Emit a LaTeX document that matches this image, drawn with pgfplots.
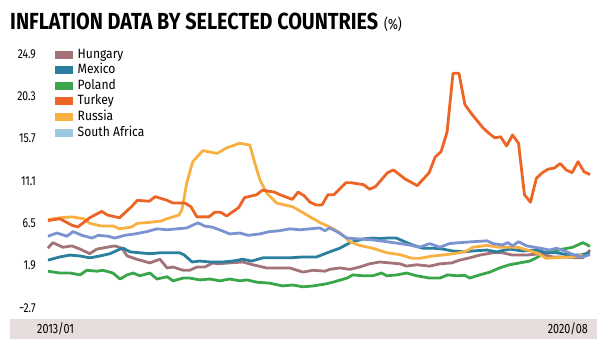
\documentclass[border=0pt]{standalone}
\usepackage{pgfplots}
\pgfplotsset{compat=1.18}
\usepackage{pgfplotstable}
\usepackage{fontspec}
\usepackage{graphicx}
\setmainfont{Fira Sans}
\definecolor{cHun}{HTML}{A27479}
\definecolor{cMex}{HTML}{2A7F9E}
\definecolor{cPol}{HTML}{3AA64A}
\definecolor{cTur}{HTML}{EC6525}
\definecolor{cRus}{HTML}{F9B042}
\definecolor{cSA}{HTML}{7C93D1}
\definecolor{cSAleg}{HTML}{9DC8DF}
\definecolor{bandc}{HTML}{E5DCDB}
\newcommand\cond[1]{\scalebox{0.8}[1]{#1}}
\newcommand\lcond[1]{\scalebox{0.9}[1]{#1}}

\pgfplotstableread{
i v
0 6.8
2 7.0
4 6.3
5 6.1
7 7.1
9 7.8
10 7.4
12 7.1
14 8.3
15 9.0
17 8.9
18 9.4
20 9.0
21 8.7
23 8.7
24 8.3
25 7.2
27 7.2
28 7.7
29 7.7
30 7.3
32 8.2
33 9.3
35 9.6
36 10.1
38 9.9
39 9.6
41 9.1
42 9.9
43 9.5
44 8.8
45 8.5
46 8.5
47 9.6
48 9.6
50 10.9
51 10.9
53 10.7
54 10.2
55 10.5
57 12.0
58 12.3
60 11.3
62 10.6
64 12.0
65 13.7
66 14.3
67 16.4
68 22.8
69 22.8
70 19.4
71 18.5
72 17.7
73 16.9
74 16.3
75 15.8
76 15.9
77 14.9
78 16.1
79 15.2
80 9.6
81 8.8
82 11.4
83 12.0
84 12.4
85 12.5
86 13.0
87 12.3
88 12.0
89 13.2
90 12.1
91 11.8
}\turkey

\pgfplotstableread{
i v
0 6.9
2 7.1
4 7.2
6 7.0
7 6.5
9 6.2
11 6.2
12 5.9
14 6.1
15 6.5
17 6.6
19 6.75
20 7.0
22 7.4
22.5 8.0
23.3 10.9
24.3 13.2
26 14.4
28.4 14.1
30 14.7
32.2 15.2
33.9 15.0
34.7 13.1
35.6 11.2
36.7 9.8
38.4 8.7
41.1 8.3
43.5 7.4
45.6 6.6
47.3 6.1
49 5.5
50.7 4.5
52.3 4.1
54.5 3.8
56.9 3.3
59.1 3.1
61.1 2.7
62.4 2.7
64.6 2.95
66.9 3.1
69.1 3.3
70.3 3.5
71.3 3.9
73.7 4.1
75.8 3.9
78.9 3.9
82 3.3
83.7 2.7
85.9 2.8
88.1 2.85
89.8 3.05
}\russia

\pgfplotstableread{
i v
0 5.1
1.5 5.45
3.2 5.1
4.2 5.6
5.7 5.2
7.4 4.9
8.4 5.2
10.1 5.1
11.2 4.9
12.9 5.2
14.6 5.35
16.6 5.6
18.3 5.9
20 5.8
21.6 5.9
23.3 6.0
24.3 6.3
25.2 6.55
26.3 6.2
27.5 6.1
29.2 5.7
30.5 5.35
32.2 5.45
33.6 5.2
35.6 5.35
37.2 5.6
38.9 5.7
40.6 5.9
42.3 5.8
44 5.9
45.6 6.0
46.5 5.7
47.3 6.0
48.5 5.6
50.2 4.9
52.3 4.8
54.5 4.7
56.9 4.5
59.1 4.3
60.7 4.15
62.4 3.9
64.1 4.3
65.8 3.9
67.4 4.3
69.1 4.4
71.3 4.5
73.7 4.6
74.7 4.3
76.3 4.15
77.2 4.4
78 4.05
79 4.5
80.4 4.05
82.6 3.8
84.2 3.6
85.4 3.8
87.1 3.4
88.8 2.95
89.8 2.85
91 3.1
}\safrica

\pgfplotstableread{
i v
0 3.8
0.8 4.4
2.5 3.9
4 4.05
5.4 3.7
7 3.2
8.2 3.7
9.9 3.9
11.2 4.05
12.4 3.8
13.3 2.95
14.9 2.6
17.1 2.2
18.8 2.6
20 1.65
21 1.75
22.7 1.4
23.8 1.4
25 1.75
26.3 1.75
27.7 2.2
28.4 2.1
30.5 2.2
32.7 2.3
34.4 2.0
36.7 1.65
38.9 1.65
40.6 1.65
42.8 1.2
44.5 1.4
46.5 1.3
47.3 1.5
49 1.65
50.7 1.5
52.3 1.75
54 2.1
55.7 2.3
57.4 2.2
59.1 2.1
60.2 1.85
61.9 2.0
64.1 1.85
65.8 2.1
67.8 2.2
69.1 2.5
70.8 2.75
72.5 3.05
74.7 3.3
76.3 3.3
78 3.05
80.4 3.05
82.6 3.2
84.7 2.85
87.1 2.85
88.8 2.75
89.8 2.75
91 3.6
}\hungary

\pgfplotstableread{
i v
0 2.5
2 2.85
3.7 3.05
5.4 2.95
7 2.75
8.7 2.95
10.4 3.2
12.1 3.7
12.6 3.8
13.8 3.4
15.4 3.3
17.1 3.2
18.8 3.3
20.5 3.3
22.1 3.3
22.9 3.05
24.2 2.3
25.5 2.4
27.2 2.3
29.4 2.3
31 2.4
32.7 2.6
34.2 2.4
36.1 2.75
38.4 2.75
40.6 2.75
42.8 2.85
45.1 2.85
46.5 3.2
47.3 3.4
49 3.8
50.7 4.4
52.9 4.8
54.5 4.9
55.7 4.85
57 4.9
58.5 4.9
59.9 4.5
61.2 4.15
62.9 3.8
64.6 3.8
66.3 3.7
67.9 3.5
69.9 3.4
71.3 3.5
73.7 3.6
75.3 3.4
77.5 3.7
79.7 3.5
82 3.6
83.7 3.3
85.4 3.3
87.6 3.05
89.3 3.05
91 3.3
}\mexico

\pgfplotstableread{
i v
0 1.3
2 1.1
3.7 1.1
5.4 0.9
6.5 1.4
8.2 1.3
9.2 1.4
10.9 1.1
12.1 0.45
13.3 0.9
14.3 1.1
15.4 0.8
17.1 1.1
18.3 0.45
20 0.7
21 0.25
22.7 0.55
23.8 0.55
25.5 0.35
27.2 0.45
28.9 0.25
30.5 0.45
32.2 0.25
33.4 0.35
35.1 0.1
37.2 0.0
39.4 -0.3
41.1 -0.2
42.8 -0.4
44.5 -0.3
46.5 -0.1
47.8 0.1
50.2 0.55
51.2 0.9
52.9 0.8
54.5 0.8
56 1.1
56.9 0.8
58.6 0.9
60.2 1.1
61.9 0.8
64.1 0.55
65.8 0.55
67.1 0.9
68.6 0.8
70 0.85
70.8 0.55
72.5 0.9
74.2 1.2
75.8 1.65
77.5 2.0
79.2 2.2
80.9 2.4
82 2.75
83.1 3.2
84.7 3.4
86.4 3.7
88.1 3.9
89.8 4.4
91 4.0
}\poland

\begin{document}
\begin{tikzpicture}
\useasboundingbox (-48bp,-45bp) rectangle (562bp,308bp);
\fill[bandc] (-38bp,-11bp) rectangle (549bp,-31bp);
\node[anchor=west, inner sep=0pt] at (-11bp,-21bp) {\fontsize{13.5}{13.5}\selectfont\cond{2013/01}};
\node[anchor=east, inner sep=0pt] at (540bp,-21bp) {\fontsize{13.5}{13.5}\selectfont\cond{2020/08}};
\node[anchor=base west, inner sep=0pt] at (-38bp,278bp) {\resizebox{368bp}{16.5bp}{\fontseries{sb}\selectfont\bfseries INFLATION DATA BY SELECTED COUNTRIES}};
\node[anchor=base west, inner sep=0pt] at (336bp,278bp) {\fontsize{15}{15}\selectfont\cond{(\%)}};
\begin{axis}[
  at={(0,0)}, anchor=south west,
  width=542bp, height=254bp, scale only axis,
  xmin=0, xmax=91, ymin=-2.7, ymax=24.9,
  clip=false,
  axis line style={draw=none},
  tick style={draw=none},
  xtick=\empty,
  ytick={-2.7,1.9,6.5,11.1,15.7,20.3,24.9},
  yticklabels={\cond{−2.7},\cond{1.9},\cond{6.5},\cond{11.1},\cond{15.7},\cond{20.3},\cond{24.9}},
  yticklabel style={font=\fontsize{13}{13}\selectfont, anchor=east, inner sep=0pt, xshift=-12bp},
  legend cell align=left,
  legend style={draw=none, fill=none, at={(axis description cs:0.013,1.022)}, anchor=north west,
    inner sep=0pt, row sep=3.6bp, font=\fontsize{13.5}{13.5}\selectfont,
    nodes={inner xsep=4.5bp, inner ysep=0pt, text height=9.5bp, text depth=2.5bp}},
  legend image code/.code={\fill[#1] (0bp,-4bp) rectangle (18bp,4bp);},
  every axis plot/.append style={line width=2.8bp, line join=round},
]
\addlegendimage{fill=cHun, draw=none}\addlegendentry{\lcond{Hungary}}
\addlegendimage{fill=cMex, draw=none}\addlegendentry{\lcond{Mexico}}
\addlegendimage{fill=cPol, draw=none}\addlegendentry{\lcond{Poland}}
\addlegendimage{fill=cTur, draw=none}\addlegendentry{\lcond{Turkey}}
\addlegendimage{fill=cRus, draw=none}\addlegendentry{\lcond{Russia}}
\addlegendimage{fill=cSAleg, draw=none}\addlegendentry{\lcond{South Africa}}
\addplot[cPol, forget plot] table[x=i,y=v] {\poland};
\addplot[cHun, forget plot] table[x=i,y=v] {\hungary};
\addplot[cMex, forget plot] table[x=i,y=v] {\mexico};
\addplot[cRus, forget plot] table[x=i,y=v] {\russia};
\addplot[cSA, forget plot] table[x=i,y=v] {\safrica};
\addplot[cTur, forget plot] table[x=i,y=v] {\turkey};
\end{axis}
\end{tikzpicture}
\end{document}
